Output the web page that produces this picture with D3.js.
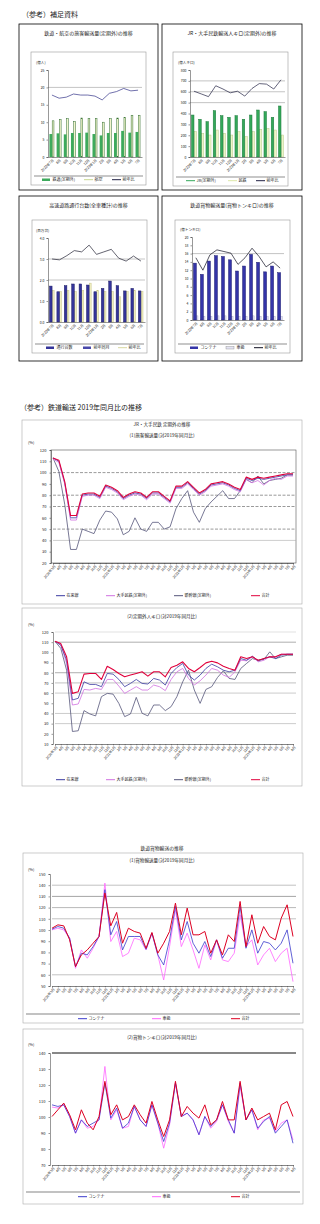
<!DOCTYPE html>
<html>
<head>
<meta charset="utf-8">
<script src="https://cdn.jsdelivr.net/npm/d3@7"></script>
<style>
  body { margin: 0; background: #fff; }
  svg { display: block; }
  text { font-family: "Noto Sans CJK JP", "Noto Sans", sans-serif; fill: #222; }
</style>
</head>
<body>
<div id="chart"></div>
<script>
// ---- data ----
const months = ["2020年3月","4月","5月","6月","7月","8月","9月","10月","11月","12月",
  "2021年1月","2月","3月","4月","5月","6月","7月","8月","9月","10月","11月","12月",
  "2022年1月","2月","3月","4月","5月","6月","7月","8月","9月","10月","11月","12月",
  "2023年1月","2月","3月","4月","5月","6月","7月","8月"];
const barMonths = ["2022年7月","8月","9月","10月","11月","12月","2023年1月","2月","3月","4月","5月","6月","7月"];

// top-left panel
const tlRail = [6.6,6.8,6.5,6.9,6.9,7.0,6.6,6.2,6.9,6.9,7.5,7.0,7.2];
const tlAir = [10.4,10.8,11.0,10.2,11.2,11.0,11.0,10.0,11.0,11.2,11.4,12.0,12.0];
const tlYoY = [178,169,172,181,178,178,175,164,183,188,197,190,192];
// top-right panel
const trJR = [386,347,325,426,380,365,380,347,386,432,417,365,469];
const trMin = [233,218,202,248,218,202,233,187,233,255,264,248,202];
const trYoY = [121,116,111,131,125,118,121,112,126,135,134,125,142];
// bottom-left panel
const blCars = [1.71,1.44,1.73,1.81,1.81,1.76,1.44,1.60,1.95,1.73,1.48,1.60,1.48];
const blPrev = [1.50,1.45,1.50,1.45,1.50,1.85,1.50,1.45,1.45,1.20,1.45,1.50,1.45];
const blYoY = [150,148,158,170,167,183,161,167,173,152,145,157,145];
// bottom-right panel
const brCont = [13.7,11.0,14.2,15.5,15.3,14.5,11.8,13.0,15.8,13.9,11.6,13.0,11.4];
const brKuru = [1.0,0.8,0.9,1.0,1.0,0.9,0.8,0.9,1.0,0.9,0.8,0.9,0.8];
const brTotal = [15.0,12.0,15.7,16.9,16.5,16.1,13.4,15.0,17.3,15.3,12.8,14.0,12.5];

// (1) 旅客輸送量
const zairai1 = [113,110,91,60,60,80,81,81,78,88,86,83,77,80,82,81,77,82,82,78,74,87,87,91,86,81,84,89,90,91,89,86,84,95,93,95,94,95,96,97,98,98];
const mintetsu1 = [112,109,90,58,58,79,80,80,77,87,85,82,76,79,81,80,76,81,81,77,73,86,86,90,85,80,83,88,89,90,88,85,83,94,91,93,89,93,95,94,97,97];
const shinkansen1 = [113,101,72,32,32,50,48,46,58,66,65,59,45,48,60,50,48,56,56,50,52,68,77,84,65,56,68,74,79,84,77,77,84,94,91,97,90,93,94,95,98,98];
const goukei1 = [113,111,92,62,62,81,82,82,79,89,87,84,78,81,83,82,78,83,83,79,75,88,88,92,87,82,85,90,91,92,90,87,85,96,94,96,95,96,97,98,99,99];
// (2) 定期外人キロ
const zairai2 = [110.9,107,92.3,53.2,54.9,71.1,68.5,68.5,66.3,79.3,78.6,73.4,66.3,69.5,73.4,69.5,68.9,74.4,72.8,67.9,79.3,85.1,89.1,77.7,72.8,77.7,84.2,88.4,85.8,82.5,80.9,82.5,93.9,92.3,96.2,91.7,93.9,95.6,93.9,97.2,98.2,98.2];
const mintetsu2 = [110.9,107.9,89.1,48.3,49.3,63.6,63,64.6,63.6,73.4,73.4,66.9,59.7,63,66.3,63,63,67.9,66.3,62.4,73.4,80.9,84.2,74.4,67.9,72.1,77.7,84.2,82.5,77.7,75.4,80.9,92.3,91.7,95.6,90.7,92.3,95.6,95.6,98.2,98.2,98.2];
const shinkansen2 = [110.9,103.9,82.5,22.3,23,42.8,39.5,37.6,56.5,59.7,59,49.9,36.9,39.5,55.8,40.2,37.6,48.3,48.3,42.8,46.7,56.5,71.1,82.5,63,49.9,63.6,66.3,75.4,81.9,74.4,73.4,84.2,89.1,93.9,92.3,93,100.5,93.9,95.6,97.2,97.2];
const goukei2 = [110.9,108.6,95.6,59.7,61.4,78.6,79.3,79.3,73.4,86.4,83.2,79.3,76,77.7,79.3,80.9,76.7,80.9,80.9,76,85.1,87.4,90.7,84.2,80.9,85.1,89.7,91.3,89.7,86.4,84.2,82.5,95.6,93.9,95.6,92.3,93.9,95.6,95.6,98.2,98.2,98.2];
// 貨物 (1) 輸送量
const container3 = [100.7,103.1,101.6,92.7,67.3,79.3,77.8,85.2,94.2,136,95.7,107.6,82.2,94.2,94.2,94.2,82.8,97.2,77.8,68.8,91.2,121,91.2,107.6,88.2,79.3,89.7,76.3,91.2,74.8,83.7,83.7,121,83.7,100.1,79.3,89.7,88.2,82.2,88.2,100.1,70.3];
const kuruma3 = [100.1,101.6,100.1,92.7,65.8,82.2,74.8,83.7,94.2,141.9,89.7,98.7,76.3,79.3,92.7,91.2,82.2,97.2,77.8,55.4,85.2,118.1,85.2,97.2,82.2,65.8,86.7,73.3,91.2,73.3,71.8,79.3,113.6,85.2,91.2,68.8,77.8,83.7,71.8,79.3,83.7,53.9];
const goukei3 = [101.6,104.6,103.7,91.2,67.3,77.8,82.2,88.2,94.2,133,103.7,115.7,88.2,101.6,98.7,97.2,83.7,97.8,79.3,88.2,98.7,124,95.7,119.6,95.7,95.7,98.7,79.3,91.2,77.8,95.7,89.7,125.5,85.2,113.6,88.2,103.1,94.2,91.2,110.6,122.5,94.2];
// 貨物 (2) トンキロ
const container4 = [107.6,106.6,107.6,100.3,89.9,98.2,94.1,96.2,98.2,121.2,99.3,105.6,93,96.2,106.6,98.2,94.1,107.6,96.2,84.7,96.2,121.2,100.3,102.4,98.2,88.9,100.3,94.1,98.2,107.6,98.2,89.9,121.2,98.2,104.5,93,97.2,100.3,89.9,94.1,98.2,83.6];
const kuruma4 = [106.2,105.6,107.6,100.3,89.9,98.2,93,94.1,98.2,131.6,98.2,104.5,93,94.1,106.6,98.2,94.1,107.6,96.2,80.5,95.1,121.2,100.3,102.4,98.2,88.9,100.3,93,97.2,107.6,97.2,89.9,119.1,98.2,104.5,92,98.2,99.3,90.9,96.2,98.2,85.7];
const goukei4 = [100.3,104.5,108.7,101.4,92,104.5,96.2,92,100.3,122.3,101.4,107.6,98.2,100.3,107.6,101.4,96.2,109.7,98.2,87.8,98.2,122.3,100.3,106.6,102.4,99.3,107.6,95.1,98.2,109.7,98.2,98.2,122.3,98.2,105.6,98.2,100.3,102.4,92,107.6,109.7,100.3];

// ---- drawing ----
const W = 320, H = 1224;
const svg = d3.select("#chart").append("svg").attr("width", W).attr("height", H);
svg.append("rect").attr("width", W).attr("height", H).attr("fill", "#fff");

function label(x, y, s, size, anchor) {
  return svg.append("text").attr("x", x).attr("y", y).attr("text-anchor", anchor || "start")
    .style("font-size", size + "px").text(s);
}

function legend(items, y) {
  items.forEach(it => {
    if (it.type === "bar") {
      svg.append("rect").attr("x", it.x).attr("y", y - 2.5).attr("width", it.w || 8).attr("height", 2.5)
        .attr("fill", it.color).attr("stroke", it.stroke || "none").attr("stroke-width", 0.4);
    } else {
      svg.append("line").attr("x1", it.x).attr("x2", it.x + (it.w || 9)).attr("y1", y - 1.3).attr("y2", y - 1.3)
        .attr("stroke", it.color).attr("stroke-width", 1);
    }
    label(it.x + (it.w || 9) + 1.5, y, it.label, 4);
  });
}

function frame(x, y, w, h, color, sw) {
  svg.append("rect").attr("x", x).attr("y", y).attr("width", w).attr("height", h)
    .attr("fill", "none").attr("stroke", color).attr("stroke-width", sw || 0.6);
}

function lineChart(o) {
  const g = svg.append("g");
  // month labels repeat ("4月" every year), so the scale runs on the index
  const x = d3.scalePoint().domain(d3.range(months.length)).range([o.left, o.right]);
  const y = d3.scaleLinear().domain(o.domain).range([o.bottom, o.top]);

  o.grid.forEach(gr => {
    g.append("line").attr("x1", o.left).attr("x2", o.gridRight)
      .attr("y1", y(gr.v)).attr("y2", y(gr.v))
      .attr("stroke", gr.c || "#888").attr("stroke-width", gr.w || 0.6)
      .attr("stroke-dasharray", gr.dash || null);
  });

  const ya = g.append("g").attr("transform", `translate(${o.left - 2},0)`)
    .call(d3.axisLeft(y).tickValues(d3.range(o.domain[0], o.domain[1] + 0.01, o.step)).tickSize(1.5).tickPadding(3));
  ya.selectAll("text").style("font-size", "4px");
  ya.selectAll("line, .domain").attr("stroke", "#333").attr("stroke-width", 0.5);

  const xa = g.append("g").attr("transform", `translate(0,${o.bottom})`)
    .call(d3.axisBottom(x).tickSize(1.5).tickPadding(1).tickFormat(i => months[i]));
  xa.select(".domain").attr("stroke", "#333").attr("stroke-width", 0.6);
  xa.selectAll("line").attr("stroke", "#333").attr("stroke-width", 0.4);
  xa.selectAll("text").attr("transform", "rotate(-50)").style("text-anchor", "end")
    .attr("dx", "-1").attr("dy", "1.5").style("font-size", "3.4px");

  const line = d3.line().x((d, i) => x(i)).y(d => y(d));
  o.series.forEach(s => {
    g.append("path").datum(s.values).attr("fill", "none")
      .attr("stroke", s.color).attr("stroke-width", s.w || 0.8)
      .attr("stroke-linejoin", "round").attr("d", line);
  });
}

function barPanel(o) {
  frame(o.fx, o.fy, o.fw, o.fh, "#000", 0.8);
  frame(o.ix, o.iy, o.iw, o.ih, "#999", 0.6);
  label(o.fx + o.fw / 2, o.fy + 11, o.title, 5, "middle");
  label(o.left - 12, o.top - 6, o.unit, 3.6);

  const x = d3.scaleBand().domain(d3.range(barMonths.length)).range([o.left, o.right]).paddingInner(0.3).paddingOuter(0.2);
  const y = d3.scaleLinear().domain(o.domain).range([o.bottom, o.top]);
  const y2 = o.domain2 ? d3.scaleLinear().domain(o.domain2).range([o.bottom, o.top]) : y;
  const bw = x.bandwidth();

  (o.grid || []).forEach(v => {
    svg.append("line").attr("x1", o.left).attr("x2", o.right).attr("y1", y(v)).attr("y2", y(v))
      .attr("stroke", "#888").attr("stroke-width", 0.5);
  });

  o.bars.forEach(b => {
    svg.append("g").selectAll("rect").data(b.values).join("rect")
      .attr("x", (d, i) => x(i) + bw * b.off)
      .attr("y", d => y(d)).attr("width", bw * b.frac)
      .attr("height", d => o.bottom - y(d))
      .attr("fill", b.color).attr("stroke", b.stroke || "none").attr("stroke-width", 0.5);
  });

  const ya = svg.append("g").attr("transform", `translate(${o.left},0)`)
    .call(d3.axisLeft(y).tickValues(d3.range(o.domain[0], o.domain[1] + 0.01, o.step)).tickSize(1.5).tickPadding(2));
  ya.selectAll("text").style("font-size", "3.4px");
  ya.selectAll("line, .domain").attr("stroke", "#333").attr("stroke-width", 0.5);

  const xa = svg.append("g").attr("transform", `translate(0,${o.bottom})`)
    .call(d3.axisBottom(x).tickSize(0).tickPadding(2).tickFormat(i => barMonths[i]));
  xa.select(".domain").attr("stroke", "#333").attr("stroke-width", 0.5);
  xa.selectAll("text").attr("transform", "rotate(-45)").style("text-anchor", "end")
    .attr("dx", "-1").attr("dy", "2").style("font-size", "3.4px");

  svg.append("path").datum(o.line.values).attr("fill", "none").attr("stroke", o.line.color)
    .attr("stroke-width", 0.7)
    .attr("d", d3.line().x((d, i) => x(i) + bw / 2).y(d => y2(d)));

  svg.append("line").attr("x1", o.ix + 3).attr("x2", o.ix + o.iw - 3)
    .attr("y1", o.legendY - 5).attr("y2", o.legendY - 5).attr("stroke", "#444").attr("stroke-width", 0.6);
  legend(o.legend, o.legendY);
}

// headers
label(22, 17, "（参考）補足資料", 7);

barPanel({
  fx: 19, fy: 24, fw: 139, fh: 166, ix: 31, iy: 52, iw: 115, ih: 133,
  title: "鉄道・航空の旅客輸送量(定期外)の推移", unit: "(億人)",
  left: 48, right: 142, top: 70, bottom: 157, domain: [0, 25], step: 5, domain2: [0, 250],
  grid: [20],
  bars: [
    { values: tlAir, color: "#f2f5cc", stroke: "#2d6b2d", off: 0.55, frac: 0.35 },
    { values: tlRail, color: "#3daa5c", off: 0, frac: 0.55 }
  ],
  line: { values: tlYoY, color: "#333388" },
  legendY: 181,
  legend: [
    { x: 42, label: "鉄道(定期外)", color: "#3daa5c", type: "bar" },
    { x: 84, label: "航空", color: "#c8d890" },
    { x: 112, label: "前年比", color: "#222244" }
  ]
});

barPanel({
  fx: 162, fy: 24, fw: 140, fh: 166, ix: 173, iy: 52, iw: 115, ih: 134,
  title: "JR・大手民鉄輸送人キロ(定期外)の推移", unit: "(億人キロ)",
  left: 190, right: 285, top: 70, bottom: 157, domain: [0, 800], step: 100, domain2: [0, 160],
  grid: [500, 600, 700],
  bars: [
    { values: trMin, color: "#eef5c8", stroke: "#b7c98a", off: 0.55, frac: 0.45 },
    { values: trJR, color: "#34a85a", stroke: "#1d7a3c", off: 0, frac: 0.5 }
  ],
  line: { values: trYoY, color: "#222244" },
  legendY: 182,
  legend: [
    { x: 186, label: "JR(定期外)", color: "#34a85a" },
    { x: 228, label: "民鉄", color: "#dde8a8" },
    { x: 256, label: "前年比", color: "#222244" }
  ]
});

barPanel({
  fx: 19, fy: 196, fw: 139, fh: 165, ix: 32, iy: 220, iw: 115, ih: 133,
  title: "高速道路通行台数(全車種計)の推移", unit: "(百万台)",
  left: 48, right: 145, top: 238, bottom: 322, domain: [0, 4], step: 1, domain2: [0, 200],
  grid: [2, 3],
  bars: [
    { values: blPrev, color: "#efeec0", stroke: "#c8c68a", off: 0.55, frac: 0.35 },
    { values: blCars, color: "#34349a", stroke: "#1e1e66", off: 0, frac: 0.5 }
  ],
  line: { values: blYoY, color: "#222233" },
  legendY: 349,
  legend: [
    { x: 46, label: "通行台数", color: "#34349a", type: "bar" },
    { x: 83, label: "前年同月", color: "#4848aa", type: "bar" },
    { x: 118, label: "前年比", color: "#d8d8a0" }
  ]
});

barPanel({
  fx: 162, fy: 196, fw: 140, fh: 165, ix: 175, iy: 220, iw: 115, ih: 133,
  title: "鉄道貨物輸送量(貨物トンキロ)の推移", unit: "(億トンキロ)",
  left: 192, right: 284, top: 237, bottom: 320, domain: [0, 20], step: 2,
  grid: [16],
  bars: [
    { values: brKuru, color: "#e4e4f4", stroke: "#aaaacc", off: 0.62, frac: 0.3 },
    { values: brCont, color: "#3434a8", stroke: "#1e1e70", off: 0, frac: 0.6 }
  ],
  line: { values: brTotal, color: "#111122" },
  legendY: 349,
  legend: [
    { x: 190, label: "コンテナ", color: "#3434a8", type: "bar" },
    { x: 226, label: "車扱", color: "#e4e4f4", type: "bar", stroke: "#888" },
    { x: 254, label: "前年比", color: "#111122" }
  ]
});

// ---- 2019年同月比 section ----
label(20, 410, "（参考）鉄道輸送 2019年同月比の推移", 7);

const railColors = { zairai: "#3a3aa0", mintetsu: "#d070e0", shinkansen: "#55557a", goukei: "#e0003c" };
const railLegend = [
  { x: 56, label: "在来線", color: railColors.zairai },
  { x: 106, label: "大手民鉄(定期外)", color: railColors.mintetsu },
  { x: 174, label: "新幹線(定期外)", color: railColors.shinkansen },
  { x: 251, label: "合計", color: railColors.goukei }
];

frame(22, 420, 280, 184, "#aaa", 0.6);
label(162, 426, "JR・大手民鉄 定期外の推移", 4.6, "middle");
label(162, 437, "(1)旅客輸送量(対2019年同月比)", 4.6, "middle");
label(28, 444, "(%)", 4);
frame(51, 450, 245, 113, "#555", 0.6);
lineChart({
  left: 53, right: 293, top: 450, bottom: 563, domain: [20, 120], step: 10, gridRight: 296,
  grid: [{ v: 100, dash: "3,1.5", c: "#555" }, { v: 80, dash: "3,1.5", c: "#555" },
         { v: 70, dash: "3,1.5", c: "#555" }, { v: 50, dash: "3,1.5", c: "#555" }, { v: 40, c: "#aaa" }],
  series: [
    { values: shinkansen1, color: railColors.shinkansen },
    { values: zairai1, color: railColors.zairai },
    { values: mintetsu1, color: railColors.mintetsu },
    { values: goukei1, color: railColors.goukei, w: 1.1 }
  ]
});
legend(railLegend, 597);

frame(22, 608, 280, 178, "#aaa", 0.6);
label(162, 618, "(2)定期外人キロ(対2019年同月比)", 4.6, "middle");
label(28, 626, "(%)", 4);
lineChart({
  left: 55, right: 293, top: 632, bottom: 744, domain: [10, 120], step: 10, gridRight: 296,
  grid: [{ v: 120, c: "#ccc" }, { v: 110, c: "#777" }, { v: 80, c: "#777" }, { v: 70, c: "#999" },
         { v: 60, c: "#aaa" }, { v: 40, c: "#aaa" }, { v: 30, c: "#aaa" }],
  series: [
    { values: shinkansen2, color: railColors.shinkansen },
    { values: mintetsu2, color: railColors.mintetsu },
    { values: zairai2, color: railColors.zairai },
    { values: goukei2, color: railColors.goukei, w: 1.1 }
  ]
});
legend(railLegend, 781);

// ---- 貨物 section ----
const freightColors = { container: "#3a3acc", kuruma: "#ff66ff", goukei: "#dd0022" };
const freightLegend = [
  { x: 78, label: "コンテナ", color: freightColors.container },
  { x: 152, label: "車扱", color: freightColors.kuruma },
  { x: 231, label: "合計", color: freightColors.goukei }
];

label(162, 850, "鉄道貨物輸送の推移", 4.8, "middle");
frame(23, 853, 280, 170, "#aaa", 0.6);
label(162, 862, "(1)貨物輸送量(対2019年同月比)", 4.6, "middle");
label(28, 871, "(%)", 4);
lineChart({
  left: 52, right: 293, top: 874, bottom: 986, domain: [50, 150], step: 10, gridRight: 296,
  grid: [{ v: 140, c: "#999" }, { v: 130, c: "#666" }, { v: 120, c: "#888" }, { v: 110, c: "#999" }, { v: 60, c: "#999" }],
  series: [
    { values: kuruma3, color: freightColors.kuruma },
    { values: container3, color: freightColors.container },
    { values: goukei3, color: freightColors.goukei, w: 1 }
  ]
});
svg.append("line").attr("x1", 26).attr("x2", 300).attr("y1", 1014).attr("y2", 1014).attr("stroke", "#333").attr("stroke-width", 0.6);
legend(freightLegend, 1020);

frame(23, 1029, 280, 175, "#aaa", 0.6);
label(162, 1039, "(2)貨物トンキロ(対2019年同月比)", 4.6, "middle");
label(28, 1046, "(%)", 4);
lineChart({
  left: 52, right: 293, top: 1053, bottom: 1165, domain: [70, 140], step: 10, gridRight: 296,
  grid: [{ v: 140, c: "#111", w: 1 }],
  series: [
    { values: kuruma4, color: freightColors.kuruma },
    { values: container4, color: freightColors.container },
    { values: goukei4, color: freightColors.goukei, w: 1 }
  ]
});
svg.append("line").attr("x1", 26).attr("x2", 300).attr("y1", 1192).attr("y2", 1192).attr("stroke", "#333").attr("stroke-width", 0.6);
legend(freightLegend, 1198);
</script>
</body>
</html>
